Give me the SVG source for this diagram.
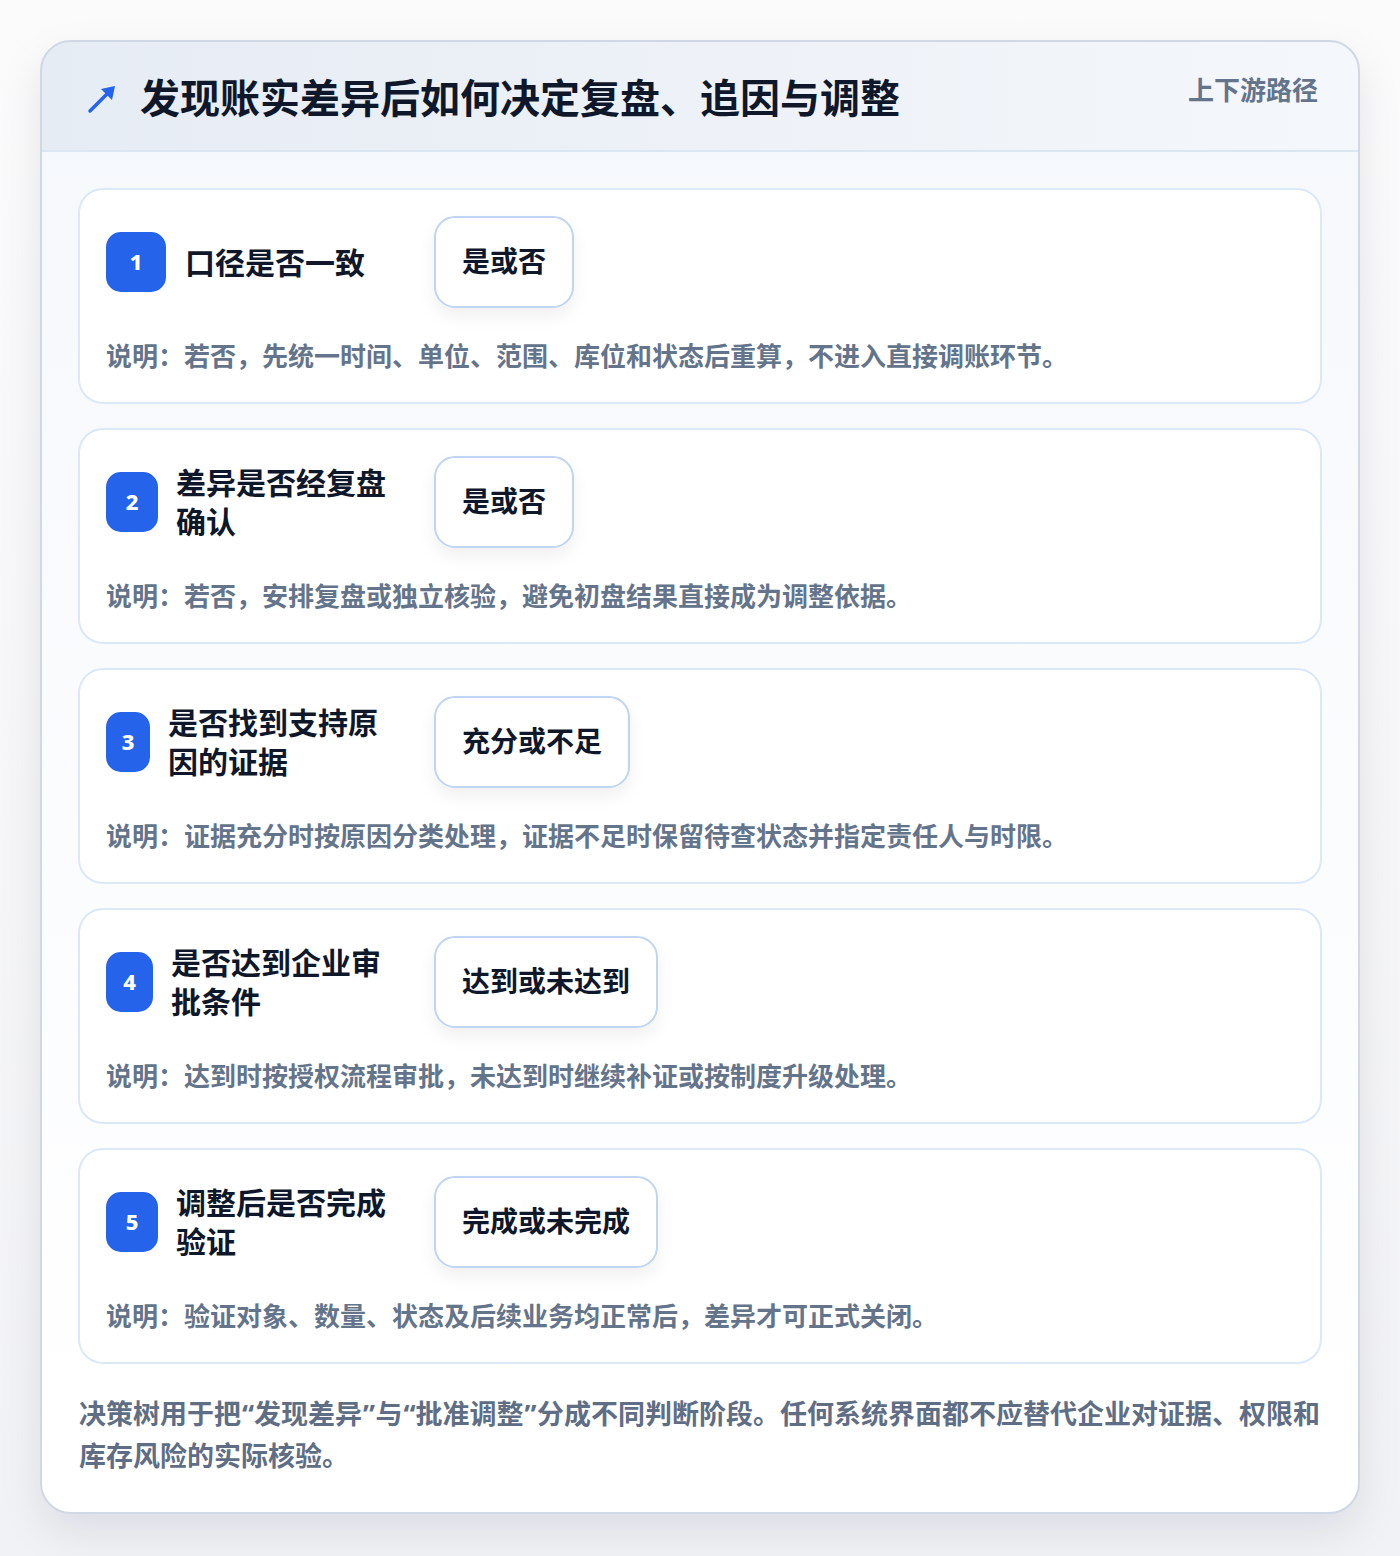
<svg xmlns="http://www.w3.org/2000/svg" width="1400" height="1556" viewBox="0 0 1400 1556">
<defs>
<linearGradient id="hdr" x1="0" y1="0" x2="1" y2="0"><stop offset="0" stop-color="#e6ecf4"/><stop offset="1" stop-color="#f4f7fb"/></linearGradient>
<linearGradient id="body" x1="0" y1="0" x2="0" y2="1"><stop offset="0" stop-color="#f5f8fc"/><stop offset="1" stop-color="#ffffff"/></linearGradient>
<linearGradient id="bg" x1="0" y1="0" x2="0" y2="1"><stop offset="0" stop-color="#fbfbfc"/><stop offset="1" stop-color="#f1f2f5"/></linearGradient>
<filter id="sh" x="-10%" y="-10%" width="120%" height="120%"><feDropShadow dx="0" dy="18" stdDeviation="20" flood-color="#0f172a" flood-opacity="0.09"/></filter>
<filter id="psh" x="-20%" y="-20%" width="140%" height="160%"><feDropShadow dx="0" dy="8" stdDeviation="8" flood-color="#0f172a" flood-opacity="0.06"/></filter>
<clipPath id="oc"><rect x="41" y="41" width="1318" height="1472" rx="30"/></clipPath>
<style>
text{font-family:"Noto Sans CJK SC","Noto Sans",sans-serif;font-weight:700}
.title{font-size:40px;fill:#0f172a}
.tag{font-size:26px;fill:#64748b}
.card{fill:#ffffff;stroke:#dce8f7;stroke-width:2}
.badge{fill:#2563eb}
.num{font-family:"Noto Sans",Inter,sans-serif;font-size:22px;font-weight:800;fill:#ffffff;text-anchor:middle}
.q{font-size:30px;fill:#0f172a}
.pill{fill:#ffffff;stroke:#bfd5f1;stroke-width:2}
.ans{font-size:28px;fill:#0f172a}
.desc{font-size:26px;fill:#64748b}
.foot{font-size:27px;fill:#5f6e85}
.qt{font-family:"Noto Sans","DejaVu Sans",sans-serif}
</style>
</defs>
<rect width="1400" height="1556" fill="url(#bg)"/>
<rect x="41" y="41" width="1318" height="1472" rx="30" fill="url(#body)" filter="url(#sh)"/>
<g clip-path="url(#oc)">
<rect x="41" y="41" width="1318" height="110" fill="url(#hdr)"/>
<line x1="41" y1="151" x2="1359" y2="151" stroke="#dbe6f3" stroke-width="2"/>
</g>
<rect x="41" y="41" width="1318" height="1472" rx="30" fill="none" stroke="#cfd8e4" stroke-width="2"/>
<g id="header">
<path d="M90 111 L110 91" stroke="#2563eb" stroke-width="3.5" stroke-linecap="round" fill="none"/>
<polygon points="115,86 112,100 101,89" fill="#2563eb"/>
<text class="title" x="140" y="113">发现账实差异后如何决定复盘、追因与调整</text>
<text class="tag" x="1318" y="100" text-anchor="end">上下游路径</text>
</g>
<g id="node1">
<rect class="card" x="79" y="189" width="1242" height="214" rx="24"/>
<rect class="badge" x="106" y="232" width="60" height="60" rx="15"/>
<text class="num" x="136" y="270">1</text>
<text class="q" x="185" y="274">口径是否一致</text>
<rect class="pill" x="435" y="217" width="138" height="90" rx="20" filter="url(#psh)"/>
<text class="ans" x="462" y="272">是或否</text>
<text class="desc" x="106" y="366">说明：若否，先统一时间、单位、范围、库位和状态后重算，不进入直接调账环节。</text>
</g>
<g id="node2">
<rect class="card" x="79" y="429" width="1242" height="214" rx="24"/>
<rect class="badge" x="106" y="472" width="52" height="60" rx="15"/>
<text class="num" x="132" y="510">2</text>
<text class="q" x="176" y="494">差异是否经复盘</text>
<text class="q" x="176" y="533">确认</text>
<rect class="pill" x="435" y="457" width="138" height="90" rx="20" filter="url(#psh)"/>
<text class="ans" x="462" y="512">是或否</text>
<text class="desc" x="106" y="606">说明：若否，安排复盘或独立核验，避免初盘结果直接成为调整依据。</text>
</g>
<g id="node3">
<rect class="card" x="79" y="669" width="1242" height="214" rx="24"/>
<rect class="badge" x="106" y="712" width="44" height="60" rx="15"/>
<text class="num" x="128" y="750">3</text>
<text class="q" x="168" y="734">是否找到支持原</text>
<text class="q" x="168" y="773">因的证据</text>
<rect class="pill" x="435" y="697" width="194" height="90" rx="20" filter="url(#psh)"/>
<text class="ans" x="462" y="752">充分或不足</text>
<text class="desc" x="106" y="846">说明：证据充分时按原因分类处理，证据不足时保留待查状态并指定责任人与时限。</text>
</g>
<g id="node4">
<rect class="card" x="79" y="909" width="1242" height="214" rx="24"/>
<rect class="badge" x="106" y="952" width="47" height="60" rx="15"/>
<text class="num" x="129.5" y="990">4</text>
<text class="q" x="171" y="974">是否达到企业审</text>
<text class="q" x="171" y="1013">批条件</text>
<rect class="pill" x="435" y="937" width="222" height="90" rx="20" filter="url(#psh)"/>
<text class="ans" x="462" y="992">达到或未达到</text>
<text class="desc" x="106" y="1086">说明：达到时按授权流程审批，未达到时继续补证或按制度升级处理。</text>
</g>
<g id="node5">
<rect class="card" x="79" y="1149" width="1242" height="214" rx="24"/>
<rect class="badge" x="106" y="1192" width="52" height="60" rx="15"/>
<text class="num" x="132" y="1230">5</text>
<text class="q" x="176" y="1214">调整后是否完成</text>
<text class="q" x="176" y="1253">验证</text>
<rect class="pill" x="435" y="1177" width="222" height="90" rx="20" filter="url(#psh)"/>
<text class="ans" x="462" y="1232">完成或未完成</text>
<text class="desc" x="106" y="1326">说明：验证对象、数量、状态及后续业务均正常后，差异才可正式关闭。</text>
</g>
<g id="connectors"></g>
<g id="footer">
<text class="foot" y="1424"><tspan x="79">决策树用于把</tspan><tspan class="qt" x="242">“</tspan><tspan x="254">发现差异</tspan><tspan class="qt" x="363">”</tspan><tspan x="375.5">与</tspan><tspan class="qt" x="403.5">“</tspan><tspan x="415.5">批准调整</tspan><tspan class="qt" x="524.5">”</tspan><tspan x="537">分成不同判断阶段。任何系统界面都不应替代企业对证据、权限和</tspan></text>
<text class="foot" x="79" y="1466">库存风险的实际核验。</text>
</g>
</svg>
